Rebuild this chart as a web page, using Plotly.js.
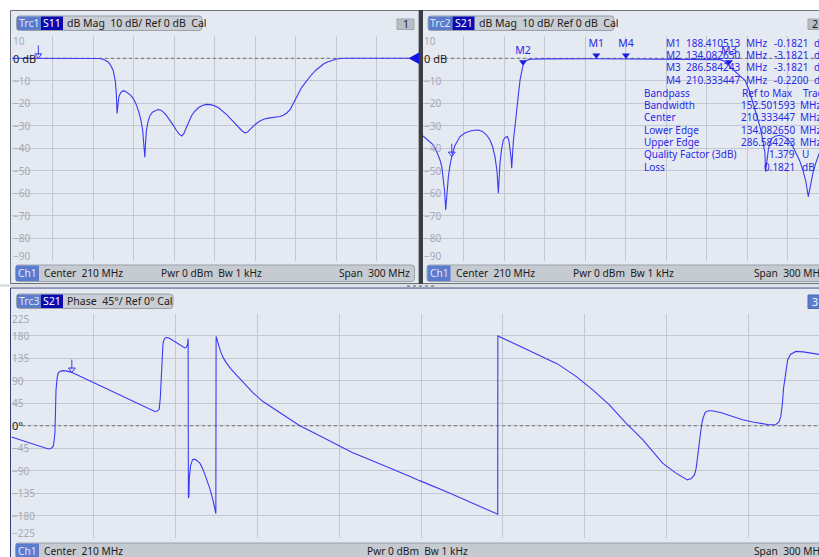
<!DOCTYPE html>
<html><head><meta charset="utf-8">
<script src="https://cdn.plot.ly/plotly-3.0.1.min.js"></script>
<style>html,body{margin:0;padding:0;overflow:hidden;background:#fff}#chart{width:819px;height:557px}</style>
</head><body><div id="chart"></div>
<script>
// ---------------- DATA ----------------
const s11Freq = [60,120,125,128,131,133,135,136.5,137.3,137.8,138.4,139.2,140.5,142,143.7,146,148,150,152,154,155.5,156.8,157.8,158.4,158.9,159.6,160.8,162.2,164,166,168,170,172,174.5,177,179.5,182,184,185.7,187.3,189,191,193,195,198,201,204,207,210,213,216,219,222,225,228,230.5,232.6,234.5,236.5,238.5,241,244,247,250,253,256,258.5,261,263.5,266,268,270,272,274.5,277,279.5,282,285,288,291,294,297,300,303,306,360];
const s11Db = [0,0,-0.1,-0.5,-1.5,-3,-5.5,-10,-16,-24.5,-20,-17,-15.2,-14.5,-14.6,-15.5,-16.5,-18,-20.5,-24,-27.5,-32,-38,-44,-38,-32,-28,-25.5,-24,-23.2,-22.8,-23,-23.8,-25.5,-27.5,-29.8,-32.2,-33.8,-34.5,-33.5,-31,-28,-25.5,-23.8,-22,-21,-20.5,-20.6,-21.1,-22,-23.3,-25,-26.9,-28.9,-30.8,-32.3,-33.2,-32.8,-31.5,-30.3,-29,-27.8,-27,-26.6,-26.4,-26.2,-25.9,-25.3,-24.3,-22.8,-20.5,-18,-15.6,-13,-11,-9,-7.2,-5.3,-3.7,-2.4,-1.5,-0.8,-0.4,-0.1,0,0];

const s21Freq = [60,64,67.6,70.5,72.6,74,75,76,76.8,77.7,78.8,80,81.3,83.5,85.5,87.4,91,95,98,101,104,107,109.6,111.5,113.3,114.8,115.8,116.4,117,118.2,119.5,121,122.5,123.6,124.4,125.2,125.7,126.3,127,128.2,129.4,130.6,131.9,133,134.08,135.6,137.5,140,150,188.41,210.33,250,275,280,283,285,286.58,289,292,295.5,298.5,301.5,304.5,307.2,309.6,311.6,313.3,313.8,314.7,315.8,317,318.3,321,324,327,330,333,336,339,341.3,343.5,345.4,347,349,351,353.3,356,360];
const s21Db = [-34.5,-36.5,-38.5,-42,-45.2,-48.5,-52.6,-59,-67.4,-60,-52.6,-47.5,-43.7,-39,-36.5,-34.8,-33.2,-32.3,-32,-31.9,-32.5,-34,-36.3,-39.2,-43.7,-50,-60,-53,-46.7,-40.5,-36.3,-35.2,-34.8,-36.5,-39.3,-44,-48.9,-42,-36.3,-30,-24.4,-16.5,-9.6,-5.5,-3.18,-1.5,-0.7,-0.4,-0.25,-0.18,-0.22,-0.22,-0.3,-0.6,-1.2,-2.1,-3.18,-4.7,-6.4,-8.2,-9.8,-14,-20,-25.3,-30.4,-36,-42.2,-50.4,-45,-40.7,-37.8,-35.6,-34.6,-34.2,-34.6,-35.8,-38,-41.5,-45.5,-49.6,-54.5,-61.5,-56,-50.5,-46.5,-42.5,-40,-38];

const phaseFreq = [60,64,68,71,73.5,74.5,75.3,75.6,75.9,76.1,76.3,76.7,77.1,78,79,80.5,82,90,100,108,112.5,113.5,114.1,114.5,114.8,115.1,115.5,116,116.8,118,119.8,122,123.5,124,124.5,124.7,124.8,125,125.15,125.6,126.3,127.1,128,129,130.2,131.4,132.6,133.8,134.4,134.85,134.95,135.6,136.5,137.5,138.7,140.5,142.4,145,148.5,152,155.8,160,165.6,170,175,180.2,185,190,195,200,205.8,209.5,215,220,225,230,234,238.1,238.15,242.4,248,254.6,260,266.8,272.9,279,285.1,291.2,298.5,303.4,306,307.6,309,310.2,310.8,311.3,311.9,312.5,312.9,313.3,314.1,315.3,316.6,320,325,327.8,332,337.5,340,341.2,341.8,342.4,342.8,343.2,343.7,344.3,345.3,347.3,350,355.8];
const phaseDeg = [-22.7,-29.5,-37,-42.5,-46.5,-45.5,-41,-30,-14.6,25,72,95,106,109.5,110.5,109.5,107,86.5,61,40,28.7,29.5,33,55,100,140,165,174,177.4,175,169,161,156,157,163,175,-145,-140,-103,-80,-68,-67,-70,-75,-88,-105,-125,-149,-163,-176,179,165,150,137,126,113,102,87,66,49,35.5,20,0,-12,-26,-41.6,-54,-65,-76,-87,-101,-110,-122,-134,-146,-158,-168,-177.4,180,169,156,139,124,99,72,42,5.4,-28,-75,-95,-104,-108.5,-106,-98,-85,-60,-40,-10,5,15,27,30,30,26,17,12,7,2,2.5,8,18.7,45,75,92,115,132,143,149,148,143];

const markerNames = ['M1','M2','M3','M4'];
const markerFreq = [188.410513, 134.082650, 286.584243, 210.333447];
const markerDb = [-0.1821, -3.1821, -3.1821, -0.2200];

const bandLabels = ['Bandpass','Bandwidth','Center','Lower Edge','Upper Edge','Quality Factor (3dB)','Loss'];
const bandValues = ['Ref to Max','152.501593','210.333447','134.082650','286.584243','1.379','0.1821'];
const bandUnits = ['Trace','MHz','MHz','MHz','MHz','U','dB'];

const dbTicks = [10,0,-10,-20,-30,-40,-50,-60,-70,-80,-90];
const phaseTicks = [225,180,135,90,45,0,-45,-90,-135,-180,-225];
const refGlyphFreq = [79.5, 81.3, 82.1];

// ---------------- HELPERS ----------------
const W = 819, H = 557;
const FONT = '"Noto Sans", "Open Sans", sans-serif';
const TRACE = '#3b3bf2';
const MK = '#2a2ae6';
const px = x => x / W;
const py = y => 1 - y / H;
function interp(xs, ys, x){
  for (let i=0;i<xs.length-1;i++){ if (x>=xs[i] && x<=xs[i+1]) { const t=(x-xs[i])/(xs[i+1]-xs[i]); return ys[i]+t*(ys[i+1]-ys[i]); } }
  return ys[ys.length-1];
}
const shapes = [], ann = [];
function rect(x0,y0,x1,y1,fill,line,lw){ shapes.push({type:'rect',xref:'paper',yref:'paper',x0:px(x0),x1:px(x1),y0:py(y1),y1:py(y0),fillcolor:fill,line:{color:line||'rgba(0,0,0,0)',width:line?(lw||1):0},layer:'below'}); }
function rrect(x0,y0,x1,y1,r,fill,line){
  const X=px, Y=py;
  const p = `M${X(x0+r)},${Y(y0)} L${X(x1-r)},${Y(y0)} Q${X(x1)},${Y(y0)} ${X(x1)},${Y(y0+r)} L${X(x1)},${Y(y1-r)} Q${X(x1)},${Y(y1)} ${X(x1-r)},${Y(y1)} L${X(x0+r)},${Y(y1)} Q${X(x0)},${Y(y1)} ${X(x0)},${Y(y1-r)} L${X(x0)},${Y(y0+r)} Q${X(x0)},${Y(y0)} ${X(x0+r)},${Y(y0)} Z`;
  shapes.push({type:'path',xref:'paper',yref:'paper',path:p,fillcolor:fill,line:{color:line||'rgba(0,0,0,0)',width:line?1:0},layer:'below'});
}
function txt(x,y,text,o){ o=o||{}; ann.push({xref:'paper',yref:'paper',x:px(x),y:py(y),text:text,showarrow:false,xanchor:o.anchor||'left',yanchor:'middle',borderpad:0,font:{family:FONT,size:o.size||10.5,color:o.color||'#1c1c1c'}}); }
const sp = '\u00a0';

// ---------------- PANEL CHROME ----------------
rect(10.5,10.5,419,283.5,'#e4e9f2','#6c717b');
rect(421,10.5,835,283.5,'#e4e9f2','#6c717b');
rect(419,10,423,284,'#3a3d44');
rect(0,284,819,287,'#dde0e5');
rect(10.5,288,835,565,'#e4e9f2','#34427a');
shapes.push({type:'line',xref:'paper',yref:'paper',x0:px(407),x1:px(435),y0:py(286),y1:py(286),line:{color:'#555a66',width:1,dash:'dot'},layer:'below'});

function header(x0,x1,y0,y1,trc,sp_,rest,restX){
  rrect(x0,y0,x1,y1,3,'#c9cdd4','#9ba0a9');
  rect(x0+0.5,y0+0.5,x0+24.5,y1-0.5,'#5b7bcd');
  rect(x0+24.5,y0+0.5,x0+46.5,y1-0.5,'#0a0ab0');
  const yc=(y0+y1)/2;
  txt(x0+12.5,yc,trc,{anchor:'center',color:'#dfe6f8'});
  txt(x0+35.5,yc,sp_,{anchor:'center',color:'#ffffff'});
  txt(restX,yc,rest,{color:'#202020'});
}
header(16.5,202,16,30.5,'Trc1','S11','dB Mag'+sp+sp+'10 dB/ Ref 0 dB'+sp+sp+'Cal',66);
header(428,614,16,30.5,'Trc2','S21','dB Mag'+sp+sp+'10 dB/ Ref 0 dB'+sp+sp+'Cal',477.5);
header(16.5,173,294,308.5,'Trc3','S21','Phase'+sp+sp+'45°/ Ref 0°'+sp+'Cal',66);
rect(397,19,414,29.5,'#b9bdc4','#a0a4ac'); txt(405.5,24.2,'1',{anchor:'center'});
rect(808,19,830,29.5,'#b9bdc4','#a0a4ac'); txt(815,24.2,'2',{anchor:'center'});
rect(808,295,830,308.5,'#5b7bcd','#4a68b8'); txt(815,301.7,'3',{anchor:'center',color:'#ffffff'});

function status(x0,x1,y0,y1,pwrX,spanX,spanAnchor){
  rrect(x0,y0,x1,y1,3,'#c6cad1','#9ba0a9');
  rect(x0+0.5,y0+0.5,x0+23.5,y1-0.5,'#5b7bcd');
  const yc=(y0+y1)/2;
  txt(x0+12,yc,'Ch1',{anchor:'center',color:'#e0e8fa',size:10.2});
  txt(x0+27.5,yc,'Center'+sp+sp+'210 MHz',{size:10.2});
  txt(pwrX,yc,'Pwr'+sp+'0 dBm'+sp+sp+'Bw'+sp+'1 kHz',{size:10.2});
  txt(spanX,yc,'Span'+sp+sp+'300 MHz',{anchor:spanAnchor,size:10.2});
}
status(15.5,414.5,265,281.5,160,411,'right');
status(427,835,265,281.5,571.5,752.5,'left');
status(15.5,835,543,558,365.5,752.5,'left');

// ref triangle (panel 1)
shapes.push({type:'path',xref:'paper',yref:'paper',path:`M${px(408.5)},${py(58.3)} L${px(419)},${py(52.5)} L${px(419)},${py(64)} Z`,fillcolor:'#1414e6',line:{width:0},layer:'above'});

// tick labels
const LBL='#a5aab4';
function tickAnn(ticks,yref,xPx,zeroTxt){
  ticks.forEach((t,i)=>{
    let text = t===0 ? zeroTxt : (t<0 ? '\u2212'+Math.abs(t) : String(t));
    let ys = 0; if (i===0) ys=-5.5; if (i===ticks.length-1) ys=5;
    ann.push({xref:'paper',yref:yref,x:px(xPx),y:t,yshift:ys,text:text,showarrow:false,xanchor:'left',yanchor:'middle',borderpad:0,
      font:{family:FONT,size:t===0?11:10,color:t===0?'#1a1a1a':LBL}});
  });
}
tickAnn(dbTicks,'y',11.5,'0 dB');
tickAnn(dbTicks,'y2',422.5,'0 dB');
tickAnn(phaseTicks,'y3',11,'0°');

// marker table
const rowY = [43, 55.2, 67.4, 79.6];
const TS = 10;
markerNames.forEach((m,i)=>{
  txt(664.5,rowY[i],m,{color:MK,size:TS});
  txt(741,rowY[i],markerFreq[i].toFixed(6),{anchor:'right',color:MK,size:TS});
  txt(745,rowY[i],'MHz',{color:MK,size:TS});
  txt(810,rowY[i],(markerDb[i]<0?'-':'')+Math.abs(markerDb[i]).toFixed(4),{anchor:'right',color:MK,size:TS});
  txt(813,rowY[i],'dB',{color:MK,size:TS});
});
bandLabels.forEach((l,i)=>{
  const y = 92.5 + i*12.35;
  txt(642.5,y,l,{color:MK,size:TS});
  if (i===0) txt(740.5,y,bandValues[i],{color:MK,size:TS});
  else txt(796,y,bandValues[i],{anchor:'right',color:MK,size:TS});
  txt(i===0?801.5:(bandUnits[i]==='MHz'?799:801),y,bandUnits[i],{color:MK,size:TS});
});

// ---------------- TRACES ----------------
// axis geometry (pixel start of each plot area and pixels per MHz)
const geo = [{x0:12,k:1.35},{x0:423,k:1.35},{x0:11.5,k:2.73}];
const fAt = (g,p) => 60 + (p - g.x0)/g.k;
const refLine = {color:'#707076',width:1,dash:'dot'};
const lineSty = {color:TRACE,width:1.1};
const traces = [
  {x:[fAt(geo[0],33),fAt(geo[0],408)],y:[0,0],xaxis:'x',yaxis:'y',mode:'lines',line:refLine},
  {x:[fAt(geo[1],445),fAt(geo[1],819)],y:[0,0],xaxis:'x2',yaxis:'y2',mode:'lines',line:refLine},
  {x:[fAt(geo[2],22),fAt(geo[2],819)],y:[0,0],xaxis:'x3',yaxis:'y3',mode:'lines',line:refLine},
  {x:s11Freq,y:s11Db,xaxis:'x',yaxis:'y',mode:'lines',line:lineSty},
  {x:s21Freq,y:s21Db,xaxis:'x2',yaxis:'y2',mode:'lines',line:lineSty},
  {x:phaseFreq,y:phaseDeg,xaxis:'x3',yaxis:'y3',mode:'lines',line:lineSty},
  {x:markerFreq,y:markerDb.map(v=>v+1.55),xaxis:'x2',yaxis:'y2',mode:'markers+text',text:markerNames,textposition:'top center',
   textfont:{family:FONT,size:10.5,color:MK},marker:{symbol:'triangle-down',size:7,color:'#1a1ae0'},cliponaxis:false}
];
// reference glyphs
const glyphDefs = [
  {xa:'x',ya:'y',f:refGlyphFreq[0],v:interp(s11Freq,s11Db,refGlyphFreq[0]),u:100/225},
  {xa:'x2',ya:'y2',f:refGlyphFreq[1],v:interp(s21Freq,s21Db,refGlyphFreq[1]),u:100/225},
  {xa:'x3',ya:'y3',f:refGlyphFreq[2],v:interp(phaseFreq,phaseDeg,refGlyphFreq[2]),u:450/224.5}
];
glyphDefs.forEach(g=>{
  traces.push({x:[g.f],y:[g.v+3*g.u],xaxis:g.xa,yaxis:g.ya,mode:'markers',marker:{symbol:'triangle-down-open',size:6,color:TRACE,line:{width:1,color:TRACE}},cliponaxis:false});
  traces.push({x:[g.f],y:[g.v+8*g.u],xaxis:g.xa,yaxis:g.ya,mode:'markers',marker:{symbol:'line-ns-open',size:7,color:TRACE,line:{width:1,color:TRACE}},cliponaxis:false});
});

// ---------------- AXES ----------------
const GRID = '#c3c7cf';
function xa(domain,range,anchor){ return {domain:domain,range:range,anchor:anchor,tickmode:'linear',tick0:60,dtick:30,showgrid:true,gridcolor:GRID,gridwidth:1,zeroline:false,showticklabels:false,ticks:'',showline:false,fixedrange:true}; }
function ya(domain,range,dt,anchor){ return {domain:domain,range:range,anchor:anchor,tickmode:'linear',tick0:0,dtick:dt,showgrid:true,gridcolor:GRID,gridwidth:1,zeroline:false,showticklabels:false,ticks:'',showline:false,fixedrange:true}; }
const layout = {
  width:W,height:H,margin:{l:0,r:0,t:0,b:0},paper_bgcolor:'#ffffff',plot_bgcolor:'rgba(0,0,0,0)',showlegend:false,
  xaxis: xa([12/W,417/W],[60,360],'y'),
  yaxis: ya([py(260.8),py(35.8)],[-90,10],10,'x'),
  xaxis2: xa([423/W,1],[60,fAt(geo[1],819)],'y2'),
  yaxis2: ya([py(260.8),py(35.8)],[-90,10],10,'x2'),
  xaxis3: xa([11.5/W,1],[60,fAt(geo[2],819)],'y3'),
  yaxis3: ya([py(538),py(313.5)],[-225,225],45,'x3'),
  shapes:shapes, annotations:ann, font:{family:FONT}
};
Plotly.newPlot('chart',traces,layout,{staticPlot:true,displayModeBar:false});
</script></body></html>
